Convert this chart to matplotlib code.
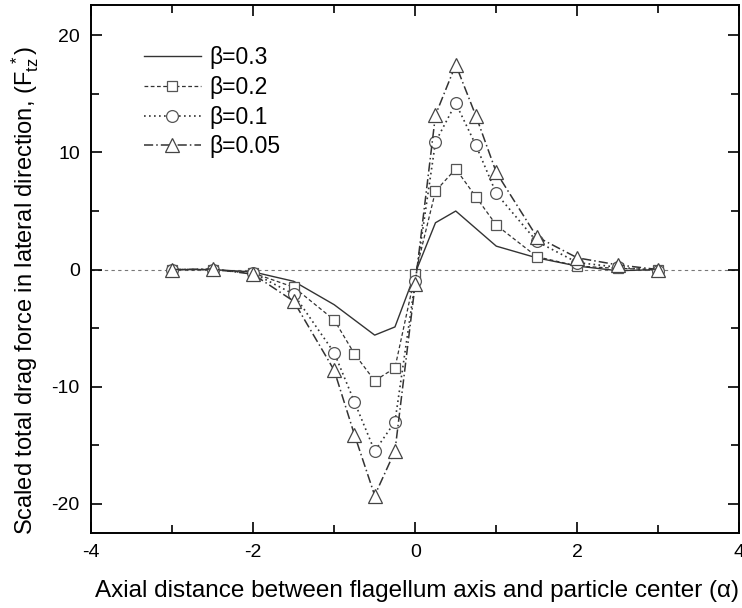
import matplotlib
matplotlib.use("Agg")
from matplotlib import pyplot as plt
from matplotlib.ticker import MultipleLocator

plt.rcParams["font.family"] = ["Liberation Sans", "DejaVu Sans"]
plt.rcParams["mathtext.fontset"] = "custom"
plt.rcParams["mathtext.rm"] = "Liberation Sans"
plt.rcParams["mathtext.it"] = "Liberation Sans"
plt.rcParams["axes.unicode_minus"] = False

alpha = [-3, -2.5, -2, -1.5, -1, -0.75, -0.5, -0.25, 0, 0.25, 0.5, 0.75, 1, 1.5, 2, 2.5, 3]

beta_03 = [0, 0, -0.2, -1.0, -3.0, -4.3, -5.6, -4.9, -0.3, 4.0, 5.0, 3.5, 2.0, 1.0, 0.3, -0.1, 0.0]
beta_02 = [0, 0, -0.3, -1.5, -4.3, -7.2, -9.5, -8.4, -0.4, 6.7, 8.6, 6.2, 3.8, 1.1, 0.3, 0.1, 0.0]
beta_01 = [0, 0, -0.3, -2.1, -7.1, -11.3, -15.5, -13.0, -1.0, 10.9, 14.2, 10.6, 6.5, 2.4, 0.6, 0.2, -0.1]
beta_005 = [0, 0.05, -0.4, -2.7, -8.6, -14.1, -19.3, -15.5, -1.2, 13.2, 17.5, 13.1, 8.3, 2.8, 1.0, 0.4, 0.0]

labels = ["β=0.3", "β=0.2", "β=0.1", "β=0.05"]

fig = plt.figure(figsize=(7.42, 6.08), dpi=100)
ax = fig.add_axes([0.1226, 0.1234, 0.874, 0.8684])

c = "#333333"
ax.axhline(0, color="#777777", linestyle=(0, (3, 3)), linewidth=0.8, zorder=1)

ax.plot(alpha, beta_03, color=c, linestyle="-", linewidth=1.0, label=labels[0], zorder=3)
ax.plot(alpha, beta_02, color=c, linestyle=(0, (3, 2)), linewidth=0.9, marker="s",
        markersize=7.5, markerfacecolor="white", markeredgecolor="#555555",
        markeredgewidth=0.9, label=labels[1], zorder=3)
ax.plot(alpha, beta_01, color=c, linestyle=(0, (1, 2)), linewidth=1.2, marker="o",
        markersize=8.5, markerfacecolor="white", markeredgecolor="#555555",
        markeredgewidth=0.9, label=labels[2], zorder=3)
ax.plot(alpha, beta_005, color=c, linestyle=(0, (6, 2, 1, 2)), linewidth=1.1, marker="^",
        markersize=9.5, markerfacecolor="white", markeredgecolor="#444444",
        markeredgewidth=0.9, label=labels[3], zorder=3)

ax.set_xlim(-4, 4)
ax.set_ylim(-22.5, 22.6)
ax.xaxis.set_major_locator(MultipleLocator(2))
ax.xaxis.set_minor_locator(MultipleLocator(1))
ax.yaxis.set_major_locator(MultipleLocator(10))
ax.yaxis.set_minor_locator(MultipleLocator(5))
ax.tick_params(which="both", direction="in", top=True, right=True, labelsize=14, width=1.2)
ax.tick_params(which="major", length=8, pad=8)
ax.tick_params(which="minor", length=6)
for s in ax.spines.values():
    s.set_linewidth(1.4)

ax.set_xlabel("Axial distance between flagellum axis and particle center (α)", fontsize=17.5)
ax.xaxis.set_label_coords(0.502, -0.09)
ax.set_ylabel(r"Scaled total drag force in lateral direction, (F$_{tz}^{\ *}$)", fontsize=17)
ax.yaxis.set_label_coords(-0.077, 0.46)

leg = ax.legend(loc="upper left", bbox_to_anchor=(0.067, 0.94), frameon=False, fontsize=16.5,
                handlelength=2.5, handletextpad=0.35, labelspacing=0.3, borderaxespad=0)

fig.savefig("out.png", dpi=100, facecolor="white")
